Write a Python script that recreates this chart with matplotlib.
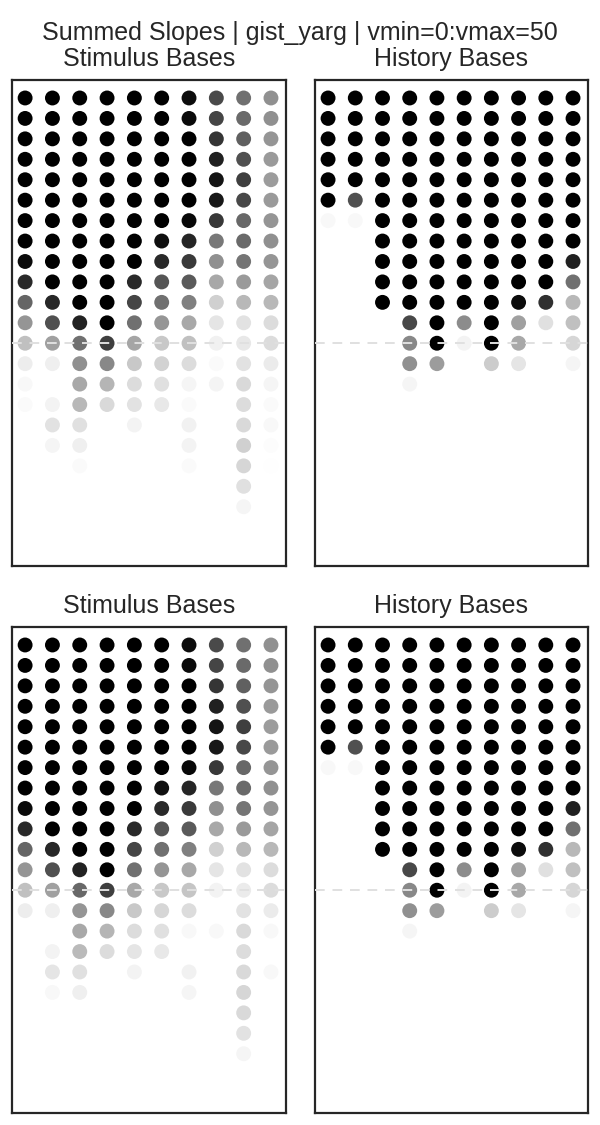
import numpy as np
import matplotlib
matplotlib.use("Agg")
import matplotlib.pyplot as plt

# ============================================================
# DATA  (summed slopes per base; rows top->bottom, 10 columns)
# ============================================================
N_COLS = 10
REF_ROW = 12          # row of the dashed reference line
VMIN, VMAX = 0, 50

stim_top = [
    [55, 55, 55, 55, 55, 55, 47.6, 35.5, 28.0, 21.8],
    [55, 55, 55, 55, 55, 55, 48.0, 36.5, 29.2, 21.8],
    [55, 55, 55, 55, 55, 55, 55, 39.6, 31.2, 20.8],
    [55, 55, 55, 55, 55, 55, 55, 43.7, 34.3, 19.8],
    [55, 55, 55, 55, 55, 55, 55, 45.9, 37.5, 19.4],
    [55, 55, 55, 55, 55, 55, 55, 45.3, 35.9, 19.8],
    [55, 55, 55, 55, 55, 55, 48.4, 39.0, 29.6, 20.8],
    [55, 55, 55, 55, 55, 46.9, 42.7, 26.5, 29.2, 21.8],
    [48.0, 55, 55, 55, 55, 41.8, 38.6, 21.8, 27.1, 20.8],
    [41.8, 55, 55, 55, 41.8, 33.3, 32.4, 17.1, 19.8, 17.6],
    [30.2, 42.2, 55, 55, 36.5, 28.0, 24.9, 9.2, 13.9, 13.9],
    [20.8, 34.3, 43.3, 55, 28.0, 20.8, 17.1, 5.1, 5.7, 6.9],
    [12.4, 18.6, 28.0, 37.5, 17.6, 10.8, 12.4, 2.9, 4.5, 6.9],
    [3.7, 3.3, 21.8, 23.3, 10.8, 8.8, 6.9, 1.0, 5.7, 4.1],
    [1.4, 0, 17.1, 14.5, 6.9, 6.1, 2.0, 2.2, 7.6, 2.0],
    [1.0, 2.5, 13.9, 7.6, 5.7, 4.5, 1.0, 0, 6.9, 1.0],
    [0, 5.7, 6.1, 0, 2.5, 0, 2.9, 0, 7.6, 1.4],
    [0, 2.0, 3.3, 0, 0, 0, 2.5, 0, 9.2, 0.6],
    [0, 0, 1.0, 0, 0, 0, 1.0, 0, 8.2, 0.3],
    [0, 0, 0, 0, 0, 0, 0, 0, 6.1, 0],
    [0, 0, 0, 0, 0, 0, 0, 0, 2.0, 0],
]

stim_bottom = stim_top[:12] + [
    [12.4, 18.6, 29.6, 37.5, 17.1, 10.8, 11.4, 2.5, 4.1, 6.9],
    [3.7, 3.3, 20.8, 23.3, 10.8, 8.2, 6.9, 0, 5.7, 4.1],
    [0, 0, 17.1, 14.5, 6.9, 6.1, 1.4, 1.4, 7.6, 1.4],
    [0, 2.5, 13.5, 6.9, 5.1, 4.5, 0, 0, 6.9, 0],
    [0, 5.1, 6.1, 0, 2.5, 0, 2.9, 0, 7.6, 1.4],
    [0, 1.4, 3.3, 0, 0, 0, 2.0, 0, 8.2, 0],
    [0, 0, 0, 0, 0, 0, 0, 0, 7.6, 0],
    [0, 0, 0, 0, 0, 0, 0, 0, 5.7, 0],
    [0, 0, 0, 0, 0, 0, 0, 0, 2.0, 0],
]

history = [
    [55, 55, 55, 55, 55, 55, 55, 55, 55, 55],
    [55, 55, 55, 55, 55, 55, 55, 55, 55, 55],
    [55, 55, 55, 55, 55, 55, 55, 55, 55, 55],
    [55, 55, 55, 55, 55, 55, 55, 55, 55, 55],
    [55, 55, 55, 55, 55, 55, 55, 55, 55, 55],
    [55, 34.3, 55, 55, 55, 55, 55, 55, 55, 55],
    [1.4, 1.4, 55, 55, 55, 55, 55, 55, 55, 55],
    [0, 0, 55, 55, 55, 55, 55, 55, 55, 55],
    [0, 0, 55, 55, 55, 55, 55, 55, 55, 43.7],
    [0, 0, 55, 55, 55, 55, 55, 55, 55, 28.0],
    [0, 0, 55, 55, 55, 55, 55, 47.6, 40.6, 13.9],
    [0, 0, 0, 35.9, 55, 22.5, 55, 18.6, 6.1, 12.4],
    [0, 0, 0, 23.3, 55, 2.5, 55, 17.1, 0, 8.2],
    [0, 0, 0, 21.8, 19.4, 0, 10.0, 5.1, 0, 2.0],
    [0, 0, 0, 2.0, 0, 0, 0, 0, 0, 0],
    [0, 0, 0, 0, 0, 0, 0, 0, 0, 0],
    [0, 0, 0, 0, 0, 0, 0, 0, 0, 0],
    [0, 0, 0, 0, 0, 0, 0, 0, 0, 0],
    [0, 0, 0, 0, 0, 0, 0, 0, 0, 0],
    [0, 0, 0, 0, 0, 0, 0, 0, 0, 0],
    [0, 0, 0, 0, 0, 0, 0, 0, 0, 0],
]

panel_titles = ["Stimulus Bases", "History Bases"]
SUPTITLE = "Summed Slopes | gist_yarg | vmin=0:vmax=50"

plt.rcParams["font.family"] = ["Liberation Sans", "DejaVu Sans"]


def draw_panel(ax, values, title):
    vals = np.array(values, dtype=float)
    n_rows = vals.shape[0]
    xs = np.tile(np.arange(N_COLS), n_rows)
    ys = np.repeat(np.arange(n_rows), N_COLS)
    ax.scatter(xs, ys, c=vals.ravel(), cmap="gist_yarg", vmin=VMIN, vmax=VMAX,
               s=115, edgecolors="none", zorder=2)
    ax.axhline(REF_ROW, color="0.88", lw=1.4, dashes=(5, 4), zorder=3)
    ax.set_xlim(-0.48, 9.55)
    ax.set_ylim(22.9, -0.88)
    ax.set_xticks([])
    ax.set_yticks([])
    for sp in ax.spines.values():
        sp.set_color("0.15")
        sp.set_linewidth(1.6)
    ax.set_title(title, fontsize=18, pad=10, color="0.15")


fig = plt.figure(figsize=(6, 11.25), dpi=100)
W, H = 600, 1125
boxes = [
    (12, 80, 286, 566), (315, 80, 588, 566),
    (12, 627, 286, 1113), (315, 627, 588, 1113),
]
panels = [stim_top, history, stim_bottom, history]
for (x0, y0, x1, y1), vals, title in zip(boxes, panels, panel_titles * 2):
    ax = fig.add_axes([x0 / W, 1 - y1 / H, (x1 - x0) / W, (y1 - y0) / H])
    draw_panel(ax, vals, title)

fig.text(0.5, 1 - 33 / H, SUPTITLE, ha="center", va="center",
         fontsize=18, color="0.15")

fig.savefig("out.png", dpi=100)
